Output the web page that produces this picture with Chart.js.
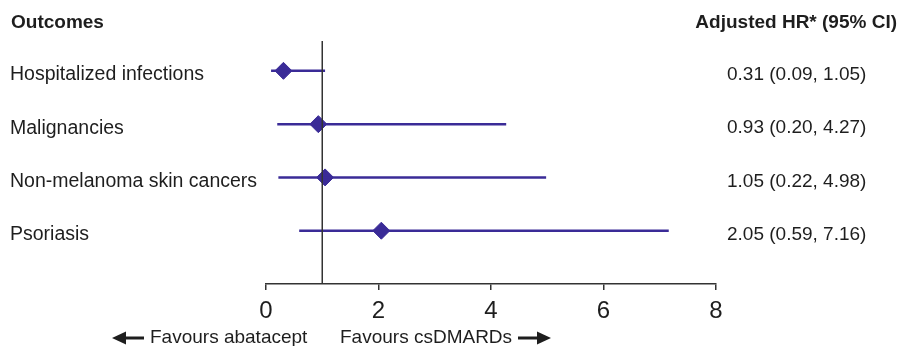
<!DOCTYPE html>
<html lang="en">
  <head>
    <meta charset="UTF-8" />
    <title>Forest plot</title>
    <script src="https://cdn.jsdelivr.net/npm/chart.js"></script>
    <style>
      html, body { margin: 0; padding: 0; background: #fff; }
      #wrap { width: 900px; height: 346px; position: relative; }
    </style>
  </head>
  <body>
    <div id="wrap"><canvas id="myChart"></canvas></div>
    <script>
      // data
      const outcomes = ["Hospitalized infections", "Malignancies", "Non-melanoma skin cancers", "Psoriasis"];
      const hr = [0.31, 0.93, 1.05, 2.05];
      const ciLow = [0.09, 0.20, 0.22, 0.59];
      const ciHigh = [1.05, 4.27, 4.98, 7.16];
      const xTicks = [0, 2, 4, 6, 8];
      const refValue = 1;

      const FONT = "'Liberation Sans', Arial, Helvetica, sans-serif";
      const TEXT = "#1e1e1e";
      const PURPLE = "#3a2b97";
      const yTop = -0.56, yBottom = 4;

      const ciLabel = (i) =>
        hr[i].toFixed(2) + " (" + ciLow[i].toFixed(2) + ", " + ciHigh[i].toFixed(2) + ")";

      const datasets = [
        {
          type: "line",
          data: [{ x: refValue, y: yTop }, { x: refValue, y: yBottom }],
          borderColor: "#333",
          borderWidth: 1.5,
          pointRadius: 0,
        },
      ];
      outcomes.forEach((_, i) => {
        datasets.push({
          type: "line",
          data: [{ x: ciLow[i], y: i }, { x: ciHigh[i], y: i }],
          borderColor: PURPLE,
          borderWidth: 2.5,
          pointRadius: 0,
        });
      });
      datasets.push({
        type: "scatter",
        data: hr.map((v, i) => ({ x: v, y: i })),
        pointStyle: "rectRot",
        pointRadius: 8.5,
        backgroundColor: PURPLE,
        borderColor: PURPLE,
        borderWidth: 1,
      });

      const extras = {
        id: "extras",
        afterDraw(chart) {
          const c = chart.ctx;
          c.save();
          c.fillStyle = TEXT;
          c.textBaseline = "middle";
          c.font = "bold 19px " + FONT;
          c.textAlign = "left";
          c.fillText("Outcomes", 11, 23);
          c.textAlign = "right";
          c.fillText("Adjusted HR* (95% CI)", 897, 23);

          c.font = "19px " + FONT;
          c.textAlign = "left";
          const y = 338;
          c.fillText("Favours abatacept", 150, y);
          c.fillText("Favours csDMARDs", 340, y);

          // arrows
          c.fillRect(124, y - 1.5, 20, 3);
          c.beginPath();
          c.moveTo(112, y);
          c.lineTo(126, y - 6.5);
          c.lineTo(126, y + 6.5);
          c.closePath();
          c.fill();
          c.fillRect(518, y - 1.5, 20, 3);
          c.beginPath();
          c.moveTo(551, y);
          c.lineTo(537, y - 6.5);
          c.lineTo(537, y + 6.5);
          c.closePath();
          c.fill();
          c.restore();
        },
      };

      const setRowTicks = (axis) => {
        axis.ticks = outcomes.map((_, i) => ({ value: i }));
      };

      new Chart(document.getElementById("myChart"), {
        type: "scatter",
        data: { datasets: datasets },
        options: {
          responsive: true,
          maintainAspectRatio: false,
          animation: false,
          layout: { autoPadding: false, padding: { left: 10, right: 0, top: 41, bottom: 0 } },
          plugins: { legend: { display: false }, tooltip: { enabled: false } },
          scales: {
            x: {
              type: "linear",
              min: 0,
              max: 8,
              afterBuildTicks: (axis) => {
                axis.ticks = xTicks.map((v) => ({ value: v }));
              },
              afterFit: (axis) => {
                axis.height = 62;
              },
              border: { color: "#333", width: 1.5 },
              grid: { drawOnChartArea: false, color: "#333", lineWidth: 1.5, tickLength: 6 },
              ticks: { color: TEXT, font: { family: FONT, size: 24 }, padding: 7, maxRotation: 0 },
            },
            y: {
              type: "linear",
              reverse: true,
              min: yTop,
              max: yBottom,
              afterBuildTicks: setRowTicks,
              afterFit: (axis) => {
                axis.width = 256;
              },
              border: { display: false },
              grid: { display: false },
              ticks: {
                crossAlign: "far",
                labelOffset: 4,
                color: TEXT,
                font: { family: FONT, size: 19.5 },
                callback: (v) => outcomes[v],
              },
            },
            yRight: {
              type: "linear",
              position: "right",
              reverse: true,
              min: yTop,
              max: yBottom,
              afterBuildTicks: setRowTicks,
              afterFit: (axis) => {
                axis.width = 184;
              },
              border: { display: false },
              grid: { display: false, drawTicks: false },
              ticks: {
                crossAlign: "near",
                padding: 11,
                labelOffset: 4,
                color: TEXT,
                font: { family: FONT, size: 19 },
                callback: (v) => ciLabel(v),
              },
            },
          },
        },
        plugins: [extras],
      });
    </script>
  </body>
</html>
